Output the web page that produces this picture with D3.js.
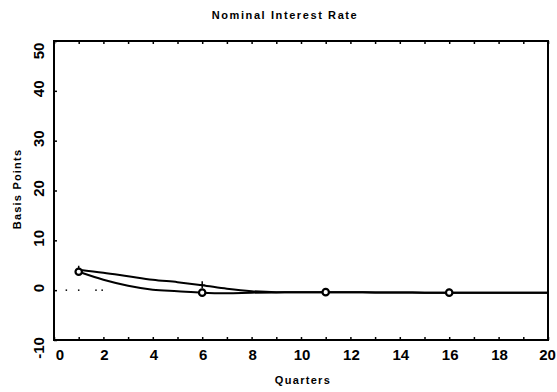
<!DOCTYPE html>
<html><head><meta charset="utf-8">
<script src="https://cdn.jsdelivr.net/npm/d3@7"></script>
<style>body{margin:0;background:#fff}svg{display:block}</style>
</head><body>
<svg id="c" width="557" height="392"></svg>
<script>
const quarters = d3.range(1, 21);
const seriesCircle = [3.7, 2.1, 0.9, 0.1, -0.2, -0.5, -0.6, -0.5, -0.45, -0.4, -0.4, -0.4, -0.45, -0.45, -0.5, -0.5, -0.5, -0.5, -0.5, -0.5];
const seriesPlus   = [4.1, 3.5, 2.8, 2.1, 1.6, 1.0, 0.3, -0.2, -0.4, -0.4, -0.4, -0.4, -0.45, -0.45, -0.5, -0.5, -0.5, -0.5, -0.5, -0.5];
const markerQuarters = [1, 6, 11, 16];
const xTicks = d3.range(0, 21, 2);
const xMinor = d3.range(0, 21, 1);
const yTicks = [50, 40, 30, 20, 10, 0, -10];
const yTickLabels = ["50", "40", "30", "20", "10", "0", "-10"];
const zeroDots = [0.5, 1.0, 1.7, 1.95];

const svg = d3.select("#c");
const L = 54, R = 548, T = 41, B = 340;
const x = d3.scaleLinear().domain([0, 20]).range([L, R]);
const y = d3.scaleLinear().domain([-10, 50]).range([B, T]);
const font = "'Liberation Sans', Arial, sans-serif";

// frame
svg.append("rect").attr("x", L).attr("y", T).attr("width", R - L).attr("height", B - T)
  .attr("fill", "none").attr("stroke", "#000").attr("stroke-width", 2);

// bottom axis ticks (inward)
svg.append("g").attr("transform", `translate(0,${B})`)
  .call(d3.axisBottom(x).tickValues(xMinor).tickSize(-3).tickFormat(""))
  .call(g => g.select(".domain").remove())
  .call(g => g.selectAll("line").attr("stroke-width", 1.5));
// top axis ticks (inward)
svg.append("g").attr("transform", `translate(0,${T})`)
  .call(d3.axisTop(x).tickValues(xMinor).tickSize(-3).tickFormat(""))
  .call(g => g.select(".domain").remove())
  .call(g => g.selectAll("line").attr("stroke-width", 1.5));
// left ticks
svg.append("g").attr("transform", `translate(${L},0)`)
  .call(d3.axisLeft(y).tickValues(yTicks).tickSize(-3).tickFormat(""))
  .call(g => g.select(".domain").remove())
  .call(g => g.selectAll("line").attr("stroke-width", 1.5));

// x tick labels
svg.append("g").selectAll("text").data(xTicks).join("text")
  .attr("x", d => x(d) + (d === 0 ? 6 : (d === 20 ? -0.5 : 1)))
  .attr("y", 360)
  .attr("text-anchor", "middle")
  .attr("font-family", font).attr("font-size", 15).attr("font-weight", "bold")
  .text(d => d);

// y tick labels (rotated)
svg.append("g").selectAll("text").data(yTicks).join("text")
  .attr("transform", (d) => {
    const yy = d === -10 ? y(d) + 8 : Math.max(y(d) - 2, 51);
    return `translate(44,${yy}) rotate(-90)`;
  })
  .attr("text-anchor", "middle")
  .attr("font-family", font).attr("font-size", 15).attr("font-weight", "bold")
  .text((d, i) => yTickLabels[i]);

// dotted zero reference
svg.append("g").selectAll("rect").data(zeroDots).join("rect")
  .attr("x", d => x(d) - 0.75).attr("y", y(0) - 0.75).attr("width", 1.5).attr("height", 1.5)
  .attr("fill", "#000");

const line = d3.line().x((d, i) => x(quarters[i])).y(d => y(d)).curve(d3.curveMonotoneX);
svg.append("path").datum(seriesPlus).attr("d", line)
  .attr("fill", "none").attr("stroke", "#000").attr("stroke-width", 2);
svg.append("path").datum(seriesCircle).attr("d", line)
  .attr("fill", "none").attr("stroke", "#000").attr("stroke-width", 2);

// plus markers
svg.append("g").selectAll("path").data(markerQuarters).join("path")
  .attr("d", q => {
    const cx = x(q), cy = y(seriesPlus[q - 1]);
    return `M${cx - 3},${cy}H${cx + 3}M${cx},${cy - 4}V${cy + 3}`;
  })
  .attr("stroke", "#000").attr("stroke-width", 1.5).attr("fill", "none");

// circle markers
svg.append("g").selectAll("circle").data(markerQuarters).join("circle")
  .attr("cx", q => x(q)).attr("cy", q => y(seriesCircle[q - 1]))
  .attr("r", 3.2).attr("fill", "#fff").attr("stroke", "#000").attr("stroke-width", 2.2);

// titles
svg.append("text").attr("x", 285).attr("y", 19).attr("text-anchor", "middle")
  .attr("font-family", font).attr("font-size", 11).attr("font-weight", "bold")
  .attr("letter-spacing", 1.6)
  .text("Nominal Interest Rate");
svg.append("text").attr("x", 303).attr("y", 384).attr("text-anchor", "middle")
  .attr("font-family", font).attr("font-size", 11).attr("font-weight", "bold")
  .attr("letter-spacing", 1.3)
  .text("Quarters");
svg.append("text").attr("transform", "translate(21,189) rotate(-90)").attr("text-anchor", "middle")
  .attr("font-family", font).attr("font-size", 11).attr("font-weight", "bold")
  .attr("letter-spacing", 1.2)
  .text("Basis Points");
</script>
</body></html>
